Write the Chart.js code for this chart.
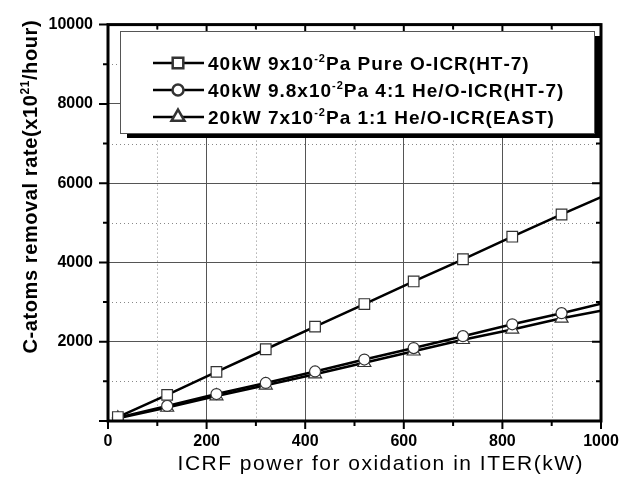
<!DOCTYPE html>
<html>
<head>
<meta charset="utf-8">
<script src="https://cdn.jsdelivr.net/npm/chart.js@4.4.1/dist/chart.umd.min.js"></script>
<style>
  html, body { margin: 0; padding: 0; background: #fff; }
  #wrap { width: 632px; height: 479px; }
</style>
</head>
<body>
<div id="wrap"><canvas id="c"></canvas></div>
<script>
// ICRF power (kW); the last point only carries the line to the right edge
const power = [20, 120, 220, 320, 420, 520, 620, 720, 820, 920, 1000];
const pureO = [100, 660, 1240, 1810, 2380, 2950, 3520, 4080, 4650, 5210, 5650];
const heO41 = [80, 380, 680, 960, 1250, 1550, 1840, 2140, 2440, 2720, 2960];
const heO11 = [70, 340, 630, 900, 1180, 1470, 1760, 2050, 2310, 2590, 2780];

// legend labels, pieces marked true are superscripts
const legendLabels = [
  [["40kW 9x10"], ["-2", true], ["Pa Pure O-ICR(HT-7)"]],
  [["40kW 9.8x10"], ["-2", true], ["Pa 4:1 He/O-ICR(HT-7)"]],
  [["20kW 7x10"], ["-2", true], ["Pa 1:1 He/O-ICR(EAST)"]],
];
const yTitle = [["C-atoms removal rate(x10"], ["21", true], ["/hour)"]];
const xTitle = [[ "ICRF power for oxidation in ITER(kW)" ]];
const styles = ["rect", "circle", "triangle"];
const radii = [7.5, 5.5, 7.5];

const FONT = "'Liberation Sans', Arial, sans-serif";

// draws text char by char so a bit of letter spacing can be added
function drawRich(ctx, parts, x, y, size, weight, spacing, dryRun) {
  let cx = x;
  parts.forEach(([txt, sup]) => {
    const s = sup ? Math.round(size * 0.6) : size;
    ctx.font = `${weight} ${s}px ${FONT}`;
    for (const ch of txt) {
      if (!dryRun) ctx.fillText(ch, cx, sup ? y - size * 0.4 : y);
      cx += ctx.measureText(ch).width + spacing;
    }
  });
  return cx - x - spacing;
}

function makeSet(label, values, style, r) {
  return {
    label,
    data: power.map((x, i) => ({ x, y: values[i] })),
    borderColor: "#000",
    borderWidth: 2.5,
    pointStyle: style,
    pointRadius: power.map((x, i) => (i === power.length - 1 ? 0 : r)),
    pointBackgroundColor: "#fff",
    pointBorderColor: "#333",
    pointBorderWidth: 1.2,
    tension: 0,
  };
}

const decor = {
  id: "decor",
  beforeDatasetsDraw(chart) {
    const { ctx, chartArea: a, scales } = chart;
    ctx.save();
    ctx.strokeStyle = "#888";
    ctx.lineWidth = 1;
    ctx.setLineDash([1, 3]);
    for (let v = 100; v < 1000; v += 200) {
      const px = Math.round(scales.x.getPixelForValue(v)) + 0.5;
      ctx.beginPath(); ctx.moveTo(px, a.top); ctx.lineTo(px, a.bottom); ctx.stroke();
    }
    for (let v = 1000; v < 10000; v += 2000) {
      const py = Math.round(scales.y.getPixelForValue(v)) + 0.5;
      ctx.beginPath(); ctx.moveTo(a.left, py); ctx.lineTo(a.right, py); ctx.stroke();
    }
    ctx.restore();
  },
  afterDraw(chart) {
    const { ctx, chartArea: a, scales } = chart;
    ctx.save();
    // tick marks: outward on bottom/left, inward on top/right
    ctx.strokeStyle = "#000";
    ctx.lineWidth = 2;
    for (let v = 0; v <= 1000; v += 100) {
      const px = scales.x.getPixelForValue(v);
      const len = v % 200 === 0 ? 8 : 5;
      ctx.beginPath();
      ctx.moveTo(px, a.bottom); ctx.lineTo(px, a.bottom + len);
      ctx.moveTo(px, a.top); ctx.lineTo(px, a.top + len);
      ctx.stroke();
    }
    for (let v = 0; v <= 10000; v += 1000) {
      const py = scales.y.getPixelForValue(v);
      const len = v % 2000 === 0 ? 9 : 5;
      ctx.beginPath();
      ctx.moveTo(a.left, py); ctx.lineTo(a.left - len, py);
      ctx.moveTo(a.right, py); ctx.lineTo(a.right - len, py);
      ctx.stroke();
    }
    // frame
    ctx.lineWidth = 3;
    ctx.strokeRect(a.left, a.top, a.right - a.left, a.bottom - a.top);

    // legend box with shadow
    const bx = 120, by = 31, bw = 474, bh = 102;
    ctx.fillStyle = "#000";
    ctx.fillRect(bx + 7, by + 5, bw, bh);
    ctx.fillStyle = "#fff";
    ctx.fillRect(bx, by, bw, bh);
    ctx.strokeStyle = "#555";
    ctx.lineWidth = 1;
    ctx.strokeRect(bx + 0.5, by + 0.5, bw, bh);

    const rows = [63, 90, 117];
    legendLabels.forEach((parts, i) => {
      const y = rows[i];
      ctx.strokeStyle = "#000";
      ctx.lineWidth = 2.5;
      ctx.beginPath(); ctx.moveTo(153, y); ctx.lineTo(204, y); ctx.stroke();
      ctx.fillStyle = "#fff";
      ctx.strokeStyle = "#333";
      Chart.helpers.drawPoint(ctx, { pointStyle: styles[i], radius: radii[i], borderWidth: 1.2 }, 178, y);
      ctx.fillStyle = "#000";
      ctx.textBaseline = "alphabetic";
      drawRich(ctx, parts, 208, y + 7, 19, "bold", 1);
    });

    // axis titles
    ctx.fillStyle = "#000";
    ctx.textAlign = "left";
    ctx.textBaseline = "alphabetic";
    const xw = drawRich(ctx, xTitle, 0, 0, 21, "normal", 1.5, true);
    drawRich(ctx, xTitle, 380 - xw / 2, 470, 21, "normal", 1.5);

    ctx.translate(37, 187);
    ctx.rotate(-Math.PI / 2);
    const yw = drawRich(ctx, yTitle, 0, 0, 20, "bold", 0.6, true);
    drawRich(ctx, yTitle, -yw / 2, 0, 20, "bold", 0.6);
    ctx.restore();
  },
};

const tickFont = { family: FONT, size: 16, weight: "bold" };

new Chart(document.getElementById("c"), {
  type: "line",
  data: {
    datasets: [
      makeSet("40kW 9x10-2Pa Pure O-ICR(HT-7)", pureO, styles[0], radii[0]),
      makeSet("40kW 9.8x10-2Pa 4:1 He/O-ICR(HT-7)", heO41, styles[1], radii[1]),
      makeSet("20kW 7x10-2Pa 1:1 He/O-ICR(EAST)", heO11, styles[2], radii[2]),
    ],
  },
  options: {
    responsive: true,
    maintainAspectRatio: false,
    animation: false,
    layout: { padding: { top: 20, right: 31, left: 0, bottom: 0 } },
    plugins: { legend: { display: false }, tooltip: { enabled: false } },
    scales: {
      x: {
        type: "linear",
        min: 0,
        max: 1000,
        afterFit: (s) => { s.height = 58; },
        ticks: { stepSize: 200, padding: 11, color: "#000", font: tickFont, callback: (v) => String(v) },
        grid: { color: "#555", lineWidth: 1, drawTicks: false },
        border: { display: false },
      },
      y: {
        min: 0,
        max: 10000,
        afterFit: (s) => { s.width = 108; },
        ticks: {
          stepSize: 2000,
          padding: 15,
          color: "#000",
          font: tickFont,
          callback: (v) => (v === 0 ? "" : String(v)),
        },
        grid: { color: "#555", lineWidth: 1, drawTicks: false },
        border: { display: false },
      },
    },
  },
  plugins: [decor],
});
</script>
</body>
</html>
